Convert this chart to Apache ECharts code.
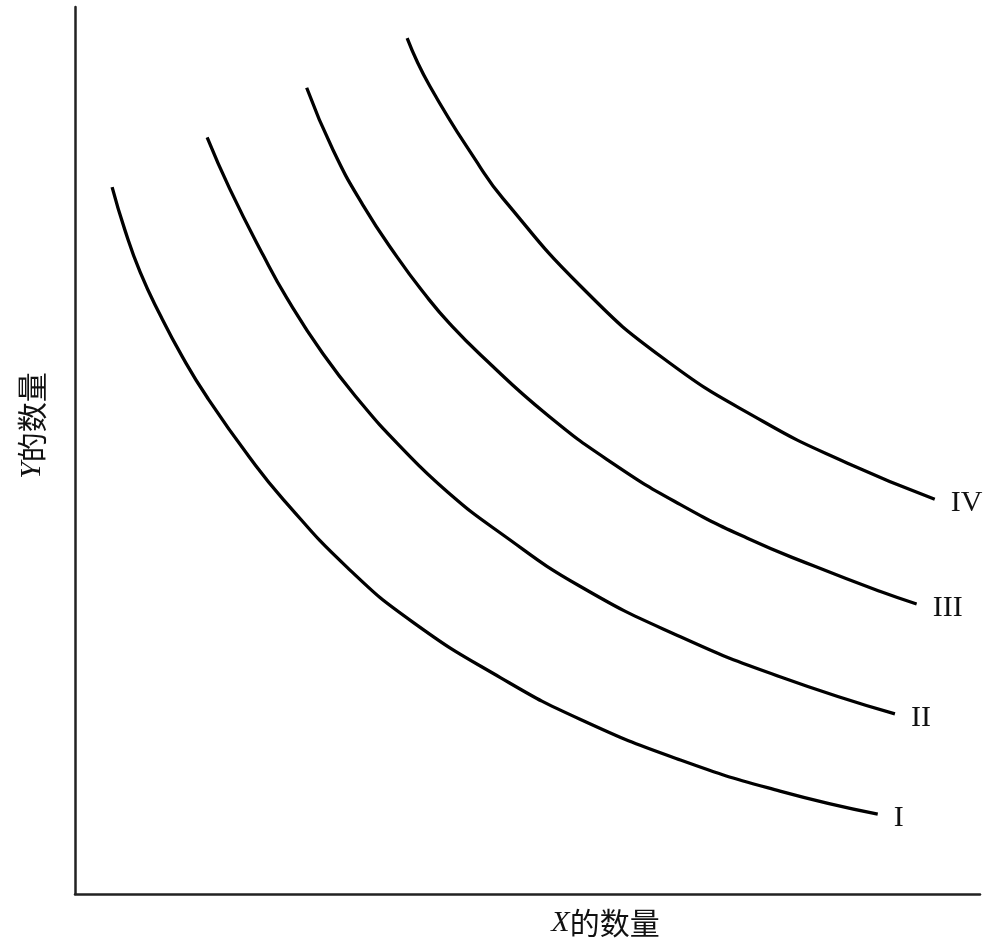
<!DOCTYPE html>
<html>
<head>
<meta charset="utf-8">
<script src="https://cdn.jsdelivr.net/npm/echarts@6/dist/echarts.min.js"></script>
<style>html,body{margin:0;padding:0;background:#fff;}#c{width:996px;height:951px;}</style>
</head>
<body>
<div id="c"></div>
<script>
// Curve names
const curveNames = ['I', 'II', 'III', 'IV'];
// Quantity of X / quantity of Y along each indifference curve (axis units 0-100)
const xI   = [4.1, 5.5, 7.2, 9.4, 11.9, 14.6, 19.3, 23.0, 30.1, 37.4, 47.0, 55.8, 66.9, 77.9, 88.7];
const yI   = [79.7, 74.9, 70.1, 65.3, 60.5, 56.0, 49.2, 44.5, 36.8, 30.6, 24.4, 19.7, 15.1, 11.6, 9.0];
const xII  = [14.6, 17.1, 20.8, 23.4, 27.4, 31.5, 35.9, 41.2, 47.0, 55.8, 66.9, 77.9, 90.6];
const yII  = [85.3, 79.5, 72.0, 67.2, 60.9, 55.5, 50.5, 45.3, 40.7, 34.7, 29.0, 24.5, 20.3];
const xIII = [25.6, 28.5, 31.8, 35.6, 38.9, 41.4, 44.8, 52.2, 59.5, 66.9, 74.3, 81.6, 89.0, 93.0];
const yIII = [90.9, 83.9, 77.7, 71.8, 67.3, 64.3, 60.8, 54.0, 48.5, 43.9, 40.1, 37.0, 34.1, 32.7];
const xIV  = [36.7, 39.2, 44.8, 47.3, 55.8, 65.0, 76.0, 85.3, 95.0];
const yIV  = [96.5, 91.1, 81.9, 78.4, 68.6, 60.4, 53.3, 48.6, 44.5];
// Axis titles
const xTitle = '{i|X}的数量';
const yTitle = '{i|Y}的数量';

const xs = [xI, xII, xIII, xIV];
const ys = [yI, yII, yIII, yIV];

const chart = echarts.init(document.getElementById('c'), null, {renderer: 'canvas'});
const series = curveNames.map((n, k) => ({
  name: n,
  type: 'line',
  smooth: 0.5,
  symbol: 'none',
  data: xs[k].map((x, i) => [x, ys[k][i]]),
  lineStyle: {color: '#000', width: 3.3},
  endLabel: {
    show: true,
    formatter: '{a}',
    distance: 16,
    offset: [0, 4],
    color: '#111',
    fontFamily: 'Liberation Serif',
    fontSize: 30
  },
  animation: false
}));

chart.setOption({
  backgroundColor: '#fff',
  animation: false,
  grid: {left: 75, right: 16, top: 7, bottom: 57},
  xAxis: {
    type: 'value', min: 0, max: 100,
    name: xTitle, nameLocation: 'middle', nameGap: 14,
    nameTextStyle: {
      color: '#111', fontFamily: 'Noto Sans CJK SC', fontSize: 30,
      padding: [0, 0, 0, 156],
      rich: {i: {fontFamily: 'Liberation Serif', fontStyle: 'italic', fontSize: 30, color: '#111'}}
    },
    axisLine: {show: true, onZero: false, lineStyle: {color: '#222', width: 2.5}},
    axisTick: {show: false}, axisLabel: {show: false}, splitLine: {show: false}
  },
  yAxis: {
    type: 'value', min: 0, max: 100,
    name: yTitle, nameLocation: 'middle', nameGap: 28, nameRotate: 90,
    nameTextStyle: {
      color: '#111', fontFamily: 'Noto Sans CJK SC', fontSize: 30,
      padding: [0, 0, 0, 50],
      rich: {i: {fontFamily: 'Liberation Serif', fontStyle: 'italic', fontSize: 30, color: '#111'}}
    },
    axisLine: {show: true, onZero: false, lineStyle: {color: '#222', width: 2.5}},
    axisTick: {show: false}, axisLabel: {show: false}, splitLine: {show: false}
  },
  series: series
});
</script>
</body>
</html>
